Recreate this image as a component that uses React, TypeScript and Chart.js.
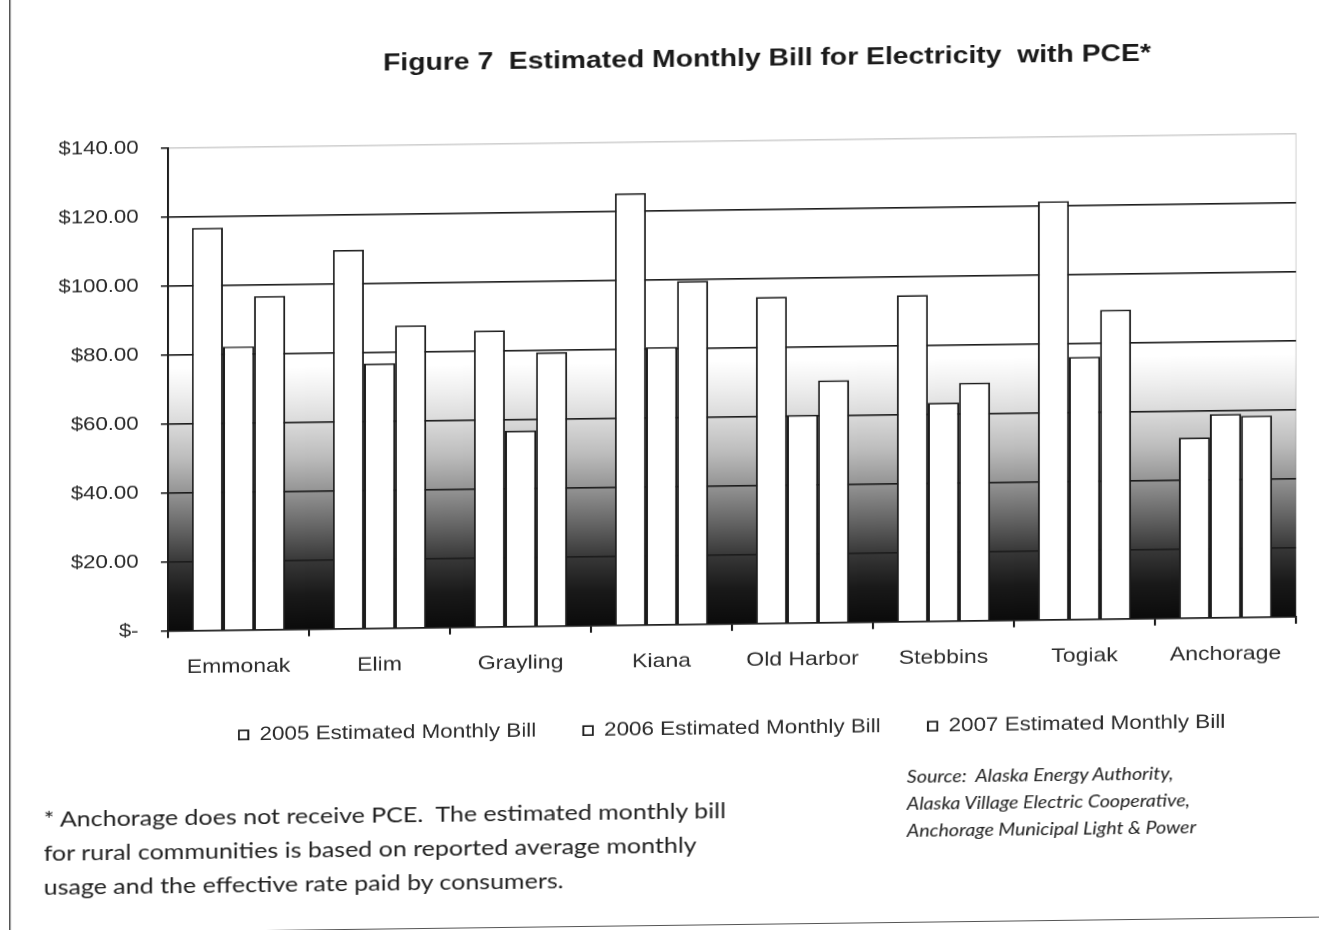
import { useEffect, useRef } from 'react';
import { Chart, registerables } from 'chart.js';

Chart.register(...registerables);

// Communities and estimated monthly bills (US$)
const communities = ['Emmonak', 'Elim', 'Grayling', 'Kiana', 'Old Harbor', 'Stebbins', 'Togiak', 'Anchorage'];
const bill2005 = [116.7, 109.8, 85.9, 125.2, 94.6, 94.6, 121.3, 52.3];
const bill2006 = [82.2, 76.8, 56.8, 80.5, 60.3, 63.3, 76.1, 59.0];
const bill2007 = [96.7, 87.7, 79.4, 99.5, 70.2, 69.0, 89.6, 58.4];
const seriesNames = ['2005 Estimated Monthly Bill', '2006 Estimated Monthly Bill', '2007 Estimated Monthly Bill'];

const titleText = 'Figure 7  Estimated Monthly Bill for Electricity  with PCE*';
const noteLines = [
  '* Anchorage does not receive PCE.  The estimated monthly bill',
  'for rural communities is based on reported average monthly',
  'usage and the effective rate paid by consumers.',
];
const sourceLines = [
  'Source:  Alaska Energy Authority,',
  'Alaska Village Electric Cooperative,',
  'Anchorage Municipal Light & Power',
];

// Figure geometry: drawn at a narrower width, then widened and slightly sheared
const W = 1118;
const H = 930;
const STRETCH = 1.18;
const SHEAR = 0.0127;
const CENTER_X = 659.5;

const INK = '#1c1c1c';
const TEXT = '#2b2b2b';

// Grey ramp behind the bars, keyed by dollar value
const rampStops: [number, string][] = [
  [0, '#0b0b0b'],
  [10, '#191919'],
  [20, '#383838'],
  [30, '#676767'],
  [40, '#949494'],
  [50, '#bdbdbd'],
  [60, '#dadada'],
  [68, '#eeeeee'],
  [76, '#ffffff'],
];

const plotBackground = {
  id: 'plotBackground',
  beforeDraw(chart: any) {
    const { ctx, chartArea } = chart;
    const y = chart.scales.y;
    const { left, right, top, bottom } = chartArea;
    const topVal = rampStops[rampStops.length - 1][0];
    const yTop = y.getPixelForValue(topVal);
    ctx.save();
    ctx.fillStyle = '#ffffff';
    ctx.fillRect(left, top, right - left, bottom - top);
    const g = ctx.createLinearGradient(0, bottom, 0, yTop);
    rampStops.forEach(([v, c]) => g.addColorStop(v / topVal, c));
    ctx.fillStyle = g;
    ctx.fillRect(left, yTop, right - left, bottom - yTop);
    // faint plot frame
    ctx.strokeStyle = 'rgba(0,0,0,0.13)';
    ctx.lineWidth = 1.2;
    ctx.beginPath();
    ctx.moveTo(left, top);
    ctx.lineTo(right, top);
    ctx.lineTo(right, bottom);
    ctx.stroke();
    ctx.restore();
  },
};

function makeDataset(label: string, data: number[]) {
  return {
    label,
    data,
    backgroundColor: '#ffffff',
    borderColor: INK,
    borderWidth: 1.6,
    categoryPercentage: 0.662,
    barPercentage: 1.0,
  };
}

export default function App() {
  const canvasRef = useRef<HTMLCanvasElement | null>(null);

  useEffect(() => {
    const canvas = canvasRef.current;
    if (!canvas) return;
    Chart.defaults.font.family = '"Liberation Sans", Arial, sans-serif';
    const chart = new Chart(canvas, {
      type: 'bar',
      data: {
        labels: communities,
        datasets: [
          makeDataset(seriesNames[0], bill2005),
          makeDataset(seriesNames[1], bill2006),
          makeDataset(seriesNames[2], bill2007),
        ],
      },
      options: {
        animation: false,
        responsive: false,
        devicePixelRatio: 2,
        layout: { padding: { top: 141.8, left: 0, right: 19.7, bottom: 180.8 } },
        plugins: {
          title: { display: false },
          tooltip: { enabled: false },
          legend: {
            position: 'bottom',
            fullSize: false,
            labels: {
              boxWidth: 8,
              boxHeight: 9,
              padding: 40,
              color: TEXT,
              font: { size: 19 },
            },
          },
        },
        scales: {
          x: {
            afterFit: (scale: any) => {
              scale.height -= 11;
            },
            grid: {
              drawOnChartArea: false,
              drawTicks: true,
              tickLength: 7,
              color: INK,
              lineWidth: 1.6,
              offset: true,
            },
            border: { color: INK, width: 1.6 },
            ticks: {
              padding: 18,
              color: TEXT,
              font: { size: 19.5 },
              maxRotation: 0,
              autoSkip: false,
            },
          },
          y: {
            min: 0,
            max: 140,
            afterFit: (scale: any) => {
              scale.width = 142.4;
            },
            ticks: {
              stepSize: 20,
              padding: 19,
              color: TEXT,
              font: { size: 18.8 },
              callback: (v: any) => (Number(v) === 0 ? '$-' : '$' + Number(v).toFixed(2)),
            },
            grid: {
              color: (c: any) => (c.tick && c.tick.value === 140 ? 'rgba(0,0,0,0.1)' : INK),
              lineWidth: 1.6,
              tickLength: 6,
              tickColor: INK,
            },
            border: { color: INK, width: 1.6 },
          },
        },
      },
      plugins: [plotBackground],
    });
    return () => chart.destroy();
  }, []);

  const figureTransform = `matrix(${STRETCH}, ${-SHEAR * STRETCH}, 0, 1, 0, ${SHEAR * CENTER_X})`;

  return (
    <div style={{ position: 'fixed', inset: 0, overflow: 'hidden', background: '#fff' }}>
      <div
        style={{
          position: 'absolute',
          left: 0,
          top: 0,
          width: W,
          height: H,
          transformOrigin: '0 0',
          transform: figureTransform,
        }}
      >
        <canvas ref={canvasRef} width={W} height={H} style={{ position: 'absolute', left: 0, top: 0 }} />
        <div
          style={{
            position: 'absolute',
            left: 650,
            top: 46.6,
            transform: 'translateX(-50%)',
            whiteSpace: 'pre',
            fontFamily: '"Liberation Sans", Arial, sans-serif',
            fontWeight: 'bold',
            fontSize: 24,
            lineHeight: '24px',
            color: '#1a1a1a',
          }}
        >
          {titleText}
        </div>
        <div
          style={{
            position: 'absolute',
            left: 37,
            top: 794.4,
            whiteSpace: 'pre',
            fontFamily: 'Lato, "Open Sans", sans-serif',
            fontSize: 21.2,
            lineHeight: '34px',
            color: '#222',
          }}
        >
          {noteLines.map((l) => (
            <div key={l}>{l}</div>
          ))}
        </div>
        <div
          style={{
            position: 'absolute',
            left: 768.6,
            top: 767.2,
            whiteSpace: 'pre',
            fontFamily: 'Lato, "Open Sans", sans-serif',
            fontStyle: 'italic',
            fontSize: 16.6,
            lineHeight: '27px',
            color: '#222',
          }}
        >
          {sourceLines.map((l) => (
            <div key={l}>{l}</div>
          ))}
        </div>
        <div
          style={{
            position: 'absolute',
            left: 8,
            top: -20,
            width: 1140,
            height: 945,
            borderLeft: '1.5px solid #555',
            borderBottom: '1.5px solid #555',
            pointerEvents: 'none',
          }}
        />
      </div>
    </div>
  );
}
